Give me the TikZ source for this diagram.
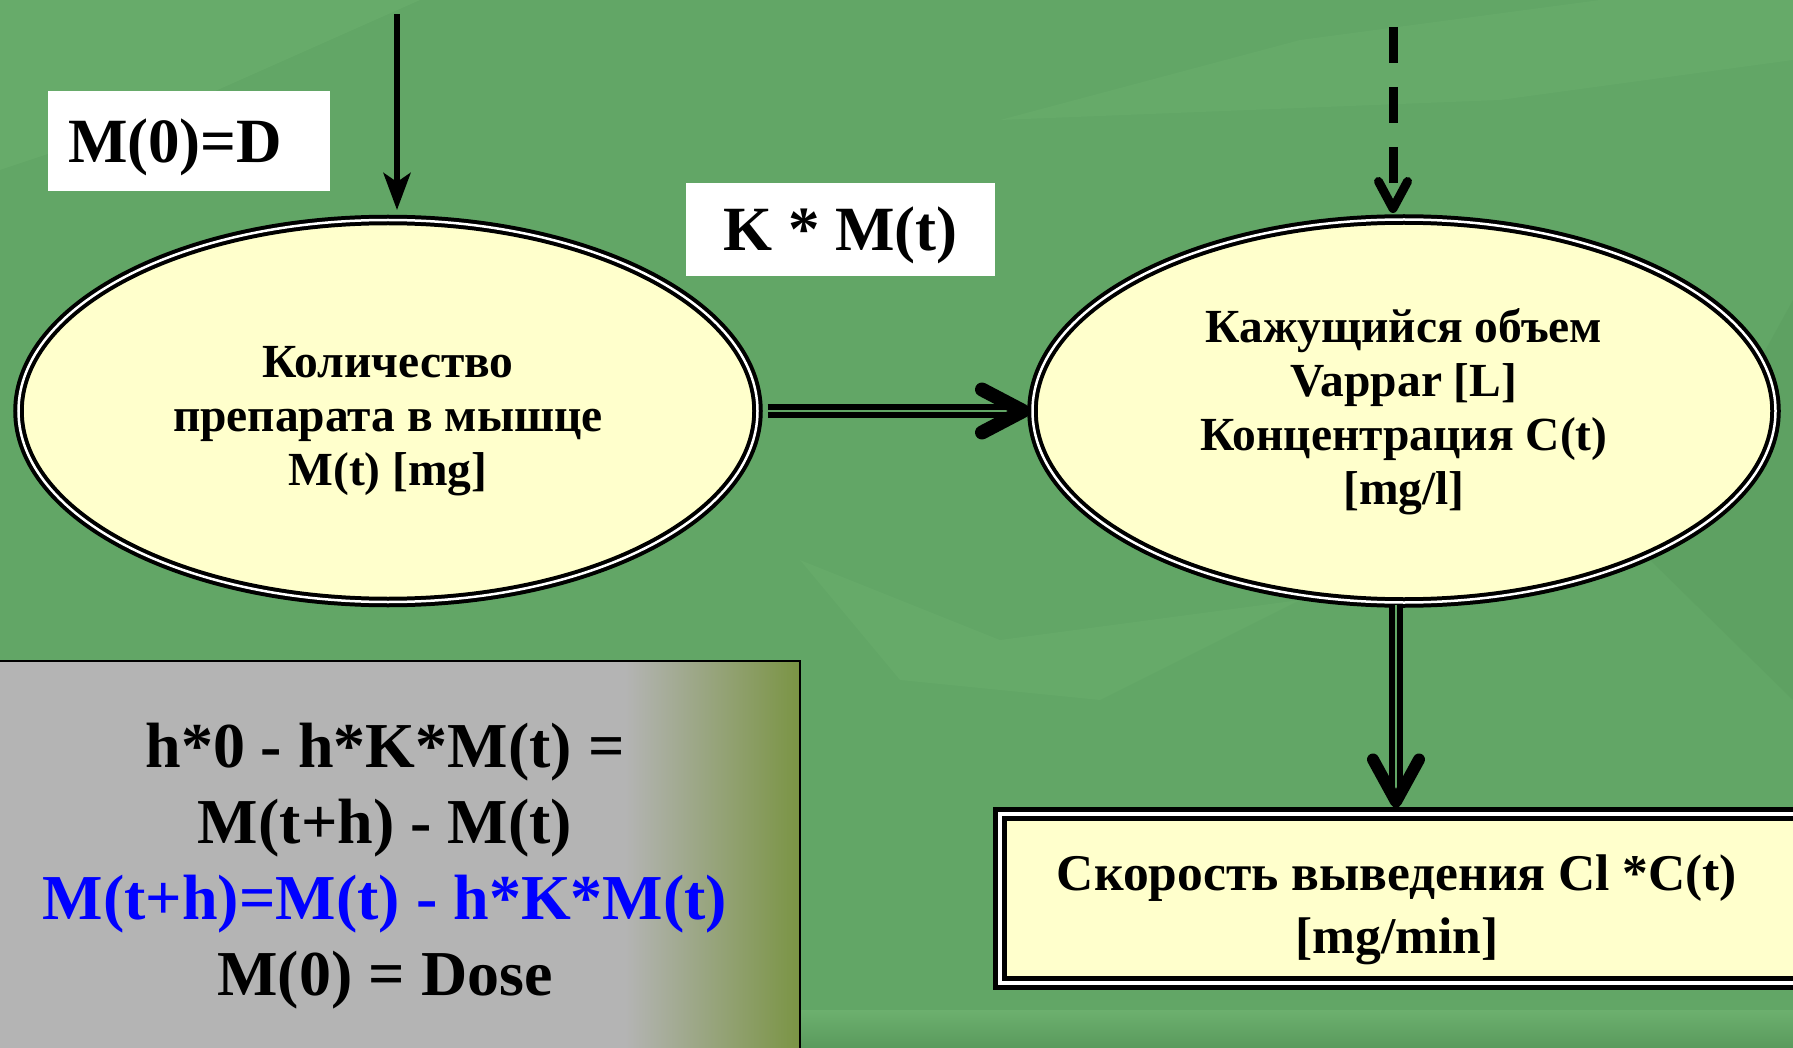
\documentclass[tikz,border=0pt]{standalone}
\usepackage{fontspec}
\setmainfont{Liberation Serif}
\usetikzlibrary{shapes.geometric,arrows.meta,calc}
\definecolor{bg}{HTML}{62A666}
\definecolor{bglight}{HTML}{6CB06E}
\definecolor{bgdark}{HTML}{5A9A5D}
\definecolor{pale}{HTML}{FFFFCC}
\definecolor{gbox}{HTML}{B4B4B4}
\definecolor{olive}{HTML}{7A9444}
\definecolor{fblue}{HTML}{0000FF}
\begin{document}
\begin{tikzpicture}[x=1pt,y=-1pt,
  ell/.style={ellipse, draw=black, line width=4pt, double=white, double distance=2.5pt,
    fill=pale, align=center, inner sep=0pt},
  elltext/.style={align=center, inner sep=0pt, font=\fontsize{47.5}{54}\selectfont\bfseries},
  lblbox/.style={fill=white, inner sep=0pt},
  lbltext/.style={inner sep=0pt, font=\fontsize{63}{70}\selectfont\bfseries},
  dbl/.style={draw=black, line width=5.5pt, double=bg, double distance=2.5pt},
  vtip/.style={draw=black, line cap=round, line join=round},
]
\clip (0,0) rectangle (1793,1048);
\fill[bg] (0,0) rectangle (1793,1048);
% faint leaf texture
\fill[bglight, opacity=0.5] (0,0) -- (420,0) -- (150,120) -- (0,170) -- cycle;
\fill[bglight, opacity=0.4] (1000,120) -- (1300,40) -- (1600,0) -- (1793,0) -- (1793,60) -- (1500,100) -- cycle;
\fill[bgdark, opacity=0.4] (1793,300) -- (1650,560) -- (1793,700) -- cycle;
\fill[bglight, opacity=0.4] (800,560) -- (1000,640) -- (1300,600) -- (1100,700) -- (900,680) -- cycle;
\shade[top color=bglight, bottom color=bgdark] (0,1010) rectangle (1793,1048);

% formula panel
\fill[gbox] (-5,661) rectangle (800,1060);
\shade[left color=gbox, right color=olive] (625,661) rectangle (800,1060);
\node[draw=black, line width=2pt, minimum width=805pt, minimum height=399pt, inner sep=0pt] (f) at (397.5,860.5) {};
\node[align=center, inner sep=0pt, font=\fontsize{64}{76}\selectfont\bfseries] (ft) at (385,866)
  {h*0 - h*K*M(t) =\\M(t+h) - M(t)\\{\color{fblue}M(t+h)=M(t) - h*K*M(t)}\\M(0) = Dose};

% compartments
\node[ell, minimum width=739pt, minimum height=382pt] (m) at (388,411) {};
\node[elltext] (mt) at (388,421) {Количество\\препарата в мышце\\M(t) [mg]};
\node[ell, minimum width=743pt, minimum height=383pt] (v) at (1404,411) {};
\node[elltext] (vt) at (1404,412) {Кажущийся объем\\Vappar [L]\\Концентрация C(t)\\{}[mg/l]};
\node[draw=black, line width=5pt, double=white, double distance=4pt, fill=pale,
  minimum width=800pt, minimum height=169pt, inner sep=0pt] (c) at (1400,898.5) {};
\node[align=center, inner sep=0pt, font=\fontsize{51.5}{63}\selectfont\bfseries] (ct) at (1397,910)
  {Скорость выведения Cl *C(t)\\{}[mg/min]};

% labels
\node[lblbox, minimum width=282pt, minimum height=100pt] (l1) at (189,141) {};
\node[lbltext, anchor=west] (l1t) at ($(l1.west)+(20,6)$) {M(0)=D};
\node[lblbox, minimum width=309pt, minimum height=93pt] (l2) at (840.5,229.5) {};
\node[lbltext] (l2t) at ($(l2.center)+(0,6)$) {K * M(t)};

% dose arrow
\coordinate (a1) at (397,14);
\draw[line width=6pt, shorten >=8pt, -{Stealth[length=37pt,width=27pt,inset=9pt]}] (a1) -- (a1 |- m.north);

% dashed input
\coordinate (a2) at (1393,27);
\draw[line width=9pt, dash pattern=on 36pt off 24pt] (a2) -- ($(a2 |- v.north)+(0,-9)$);
\draw[vtip, line width=9pt] ($(a2 |- v.north)+(-14.5,-36)$) -- ($(a2 |- v.north)+(0,-9)$) -- ($(a2 |- v.north)+(14.5,-36)$);

% transfer K*M(t)
\draw[dbl] ($(m.east)+(8,0)$) -- ($(v.west)+(-10,0)$);
\draw[vtip, line width=14pt] ($(v.west)+(-48.5,-21.5)$) -- ($(v.west)+(-7.5,0)$) -- ($(v.west)+(-48.5,21.5)$);

% elimination
\coordinate (e1) at (1396,0);
\draw[dbl] (e1 |- v.south) -- ($(e1 |- c.north)+(0,-14)$);
\draw[vtip, line width=12pt] ($(e1 |- c.north)+(-23,-52)$) -- ($(e1 |- c.north)+(0,-10)$) -- ($(e1 |- c.north)+(23,-52)$);
\end{tikzpicture}
\end{document}
